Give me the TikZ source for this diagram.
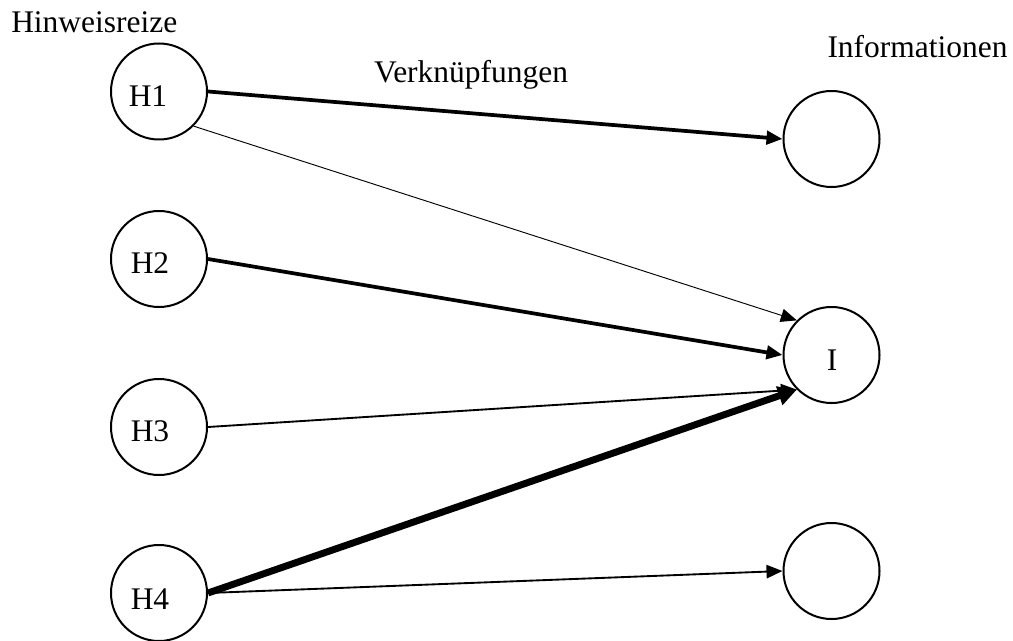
\documentclass[tikz,border=0pt]{standalone}
\usepackage{fontspec}
\setmainfont{Liberation Serif}
\usetikzlibrary{arrows.meta}
\begin{document}
\begin{tikzpicture}[x=0.75pt,y=-0.75pt,
  ball/.style={draw,circle,line width=1.5pt,minimum size=72pt,inner sep=0pt},
  txt/.style={font=\fontsize{23.6pt}{28pt}\selectfont,inner sep=0pt},
  tipA/.style={-{Triangle[length=12pt,width=10pt]}},
  tipB/.style={-{Triangle[length=14pt,width=14pt]}},
  thinline/.style={tipA,line width=0.7pt},
  midline/.style={tipA,line width=1.4pt},
  thickline/.style={tipA,line width=2.8pt},
  heavyline/.style={tipB,line width=5.2pt}]
\useasboundingbox (0,0) rectangle (1013,641);
% left circles
\node[ball] (H1) at (159,91.5) {};
\node[ball] (H2) at (159,259) {};
\node[ball] (H3) at (159,427) {};
\node[ball] (H4) at (159,593) {};
% right circles
\node[ball] (T) at (831.5,139) {};
\node[ball] (I) at (831.5,355) {};
\node[ball] (B) at (831.5,571) {};
% labels in circles
\node[txt,anchor=base] (lH1) at (148,107) {H1};
\node[txt,anchor=base] (lH2) at (150,274) {H2};
\node[txt,anchor=base] (lH3) at (150,441) {H3};
\node[txt,anchor=base] (lH4) at (150,609) {H4};
\node[txt,anchor=base] (lI) at (832,370) {I};
% titles
\node[txt,anchor=base west] (hin) at (11,33) {Hinweisreize};
\node[txt,anchor=base] (ver) at (471,83) {Verknüpfungen};
\node[txt,anchor=base] (inf) at (917.5,58) {Informationen};
% connectors
\draw[thickline] (H1.east) -- (T.west);
\draw[thinline] (H1.south east) -- (I.north west);
\draw[thickline] (H2.east) -- (I.west);
\draw[midline] (H3.east) -- (I.south west);
\draw[heavyline] (H4.east) -- (I.south west);
\draw[midline] (H4.east) -- (B.west);
\end{tikzpicture}
\end{document}
